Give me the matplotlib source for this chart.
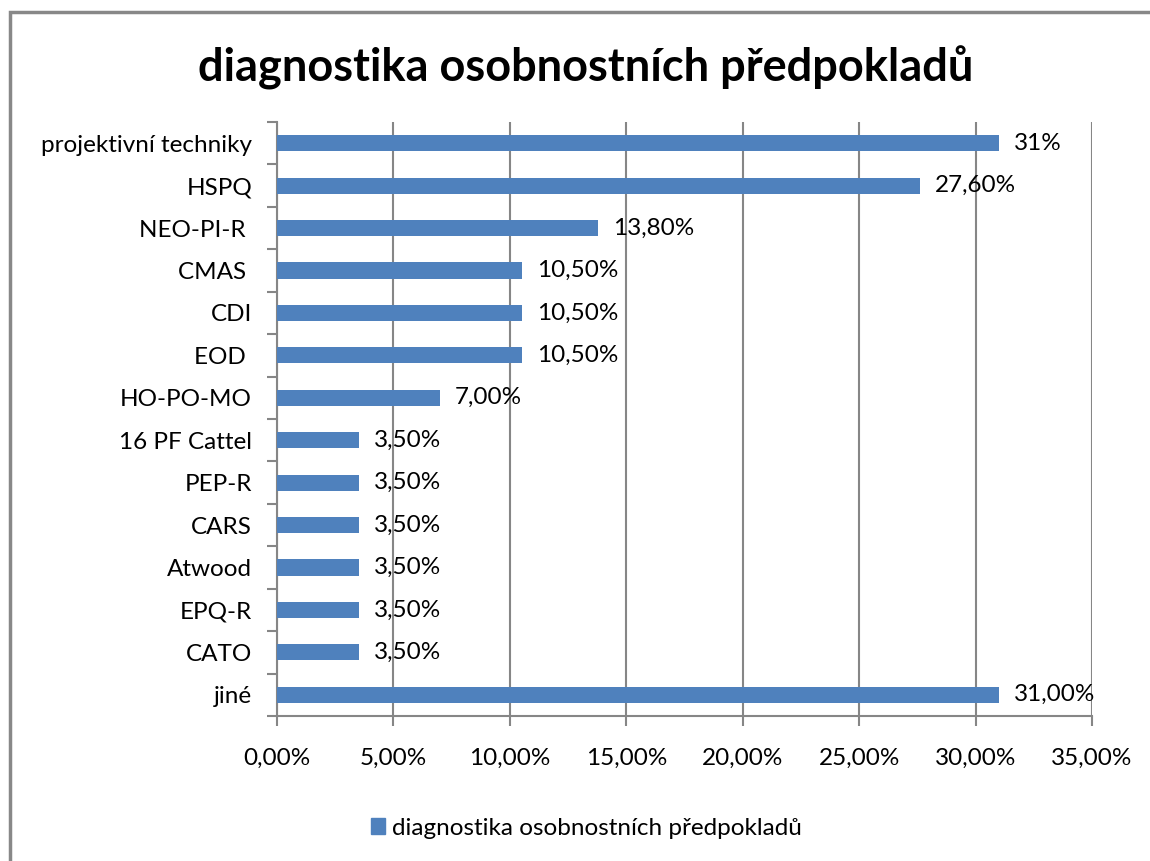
import matplotlib.pyplot as plt
from matplotlib.patches import Rectangle, Patch
from matplotlib.ticker import FuncFormatter

plt.rcParams['font.family'] = ['Lato', 'DejaVu Sans']

# data
categories = ['projektivní techniky', 'HSPQ', 'NEO-PI-R ', 'CMAS ', 'CDI', 'EOD ',
              'HO-PO-MO', '16 PF Cattel', 'PEP-R', 'CARS', 'Atwood', 'EPQ-R',
              'CATO', 'jiné']
values = [31.0, 27.6, 13.8, 10.5, 10.5, 10.5, 7.0, 3.5, 3.5, 3.5, 3.5, 3.5, 3.5, 31.0]
labels = ['31%', '27,60%', '13,80%', '10,50%', '10,50%', '10,50%', '7,00%',
          '3,50%', '3,50%', '3,50%', '3,50%', '3,50%', '3,50%', '31,00%']
title = 'diagnostika osobnostních předpokladů'

blue = '#4F81BD'
grey = '#868686'
fs = 17.5

fig = plt.figure(figsize=(11.5, 8.61), dpi=100)
ax = fig.add_axes([0.2409, 0.1684, 0.7087, 0.6899])

pos = list(range(len(categories)))[::-1]
ax.barh(pos, values, height=0.38, color=blue, zorder=3)
for p, v, lab in zip(pos, values, labels):
    ax.text(v + 0.65, p, lab, va='center', ha='left', fontsize=fs, zorder=4)

ax.set_xlim(0, 35)
ax.set_ylim(-0.5, len(categories) - 0.5)
ax.set_xticks([0, 5, 10, 15, 20, 25, 30, 35])
ax.xaxis.set_major_formatter(FuncFormatter(lambda x, _: f'{x:.2f}%'.replace('.', ',')))
ax.set_yticks(pos)
ax.set_yticklabels(categories)
ax.set_yticks([i - 0.5 for i in range(len(categories) + 1)], minor=True)
ax.tick_params(axis='y', which='major', length=0, pad=18, labelsize=fs)
ax.tick_params(axis='y', which='minor', length=7, color=grey, width=1.5)
ax.tick_params(axis='x', length=7, color=grey, width=1.5, pad=16, labelsize=fs)
ax.grid(axis='x', color=grey, linewidth=1.5, zorder=0)

for s in ['top', 'right']:
    ax.spines[s].set_visible(False)
for s in ['left', 'bottom']:
    ax.spines[s].set_color(grey)
    ax.spines[s].set_linewidth(1.5)

fig.text(0.509, 0.921, title, ha='center', va='center', fontsize=32.5, fontweight='bold')

fig.legend(handles=[Patch(color=blue)], labels=[title], loc='center',
           bbox_to_anchor=(0.51, 0.038), frameon=False, fontsize=fs,
           handlelength=0.6, handleheight=0.6, handletextpad=0.3)

fig.patches.append(Rectangle((0.0085, -0.1), 1.2, 1.0855, transform=fig.transFigure,
                             fill=False, edgecolor='#888888', linewidth=2.5))

fig.savefig('out.png', dpi=100)
